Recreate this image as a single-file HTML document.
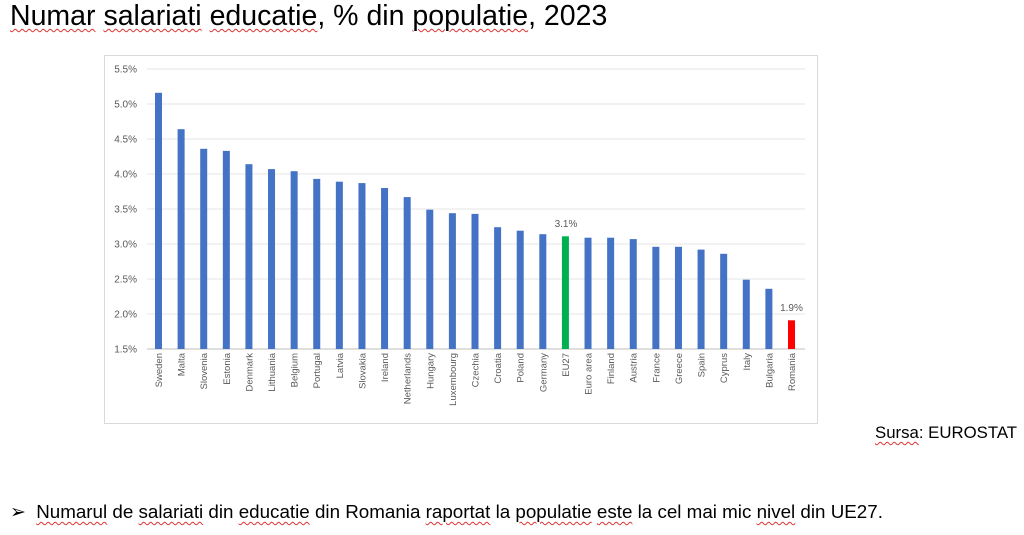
<!DOCTYPE html>
<html><head><meta charset="utf-8"><style>
body{margin:0;width:1024px;height:535px;background:#fff;overflow:hidden;font-family:"Liberation Sans",sans-serif;position:relative}
.t{position:absolute;left:10px;top:0px;font-size:28.5px;color:#000;white-space:nowrap}
.s{position:absolute;left:875px;top:423px;font-size:16.8px;white-space:nowrap}
.b{position:absolute;left:10px;top:501px;font-size:18.8px;white-space:nowrap}
u{text-decoration:underline wavy #d33;text-decoration-thickness:1px;text-underline-offset:3px}
</style></head><body>
<div class="t"><u>Numar</u> <u>salariati</u> <u>educatie</u>, % din <u>populatie</u>, 2023</div>
<svg width="1024" height="535" style="position:absolute;left:0;top:0">
<rect x="104.5" y="55.5" width="713" height="368" fill="none" stroke="#d9d9d9"/>
<g id="g" font-size="10" fill="#595959" text-anchor="end"></g>
</svg>
<div class="s"><u>Sursa</u>: EUROSTAT</div>
<div class="b">➢&nbsp; <u>Numarul</u> de <u>salariati</u> din <u>educatie</u> din Romania <u>raportat</u> la <u>populatie</u> <u>este</u> la cel mai mic <u>nivel</u> din UE27.</div>
<script>
var d=[["Sweden",5.16],["Malta",4.64],["Slovenia",4.36],["Estonia",4.33],["Denmark",4.14],["Lithuania",4.07],["Belgium",4.04],["Portugal",3.93],["Latvia",3.89],["Slovakia",3.87],["Ireland",3.8],["Netherlands",3.67],["Hungary",3.49],["Luxembourg",3.44],["Czechia",3.43],["Croatia",3.24],["Poland",3.19],["Germany",3.14],["EU27",3.11],["Euro area",3.09],["Finland",3.09],["Austria",3.07],["France",2.96],["Greece",2.96],["Spain",2.92],["Cyprus",2.86],["Italy",2.49],["Bulgaria",2.36],["Romania",1.91]];
var s="",Y=v=>349-(v-1.5)*70;
for(var i=0;i<9;i++){var v=1.5+i*0.5,y=Y(v);s+=`<line x1="147" x2="805" y1="${y}" y2="${y}" stroke="${i?'#e6e6e6':'#bfbfbf'}"/><text x="137" y="${y+3.5}">${v.toFixed(1)}%</text>`;}
d.forEach((e,i)=>{var c=158.5+i*22.607,y=Y(e[1]);var col=e[0]=="EU27"?"#00b050":e[0]=="Romania"?"#ff0000":"#4472c4";
s+=`<rect x="${c-3.5}" y="${y}" width="7" height="${349-y}" fill="${col}"/><text transform="translate(${c+3.5},353) rotate(-90)" font-size="9.5">${e[0]}</text>`;});
s+=`<text x="566" y="227" text-anchor="middle">3.1%</text><text x="791.5" y="311" text-anchor="middle">1.9%</text>`;
document.getElementById("g").innerHTML=s;
</script>
</body></html>
